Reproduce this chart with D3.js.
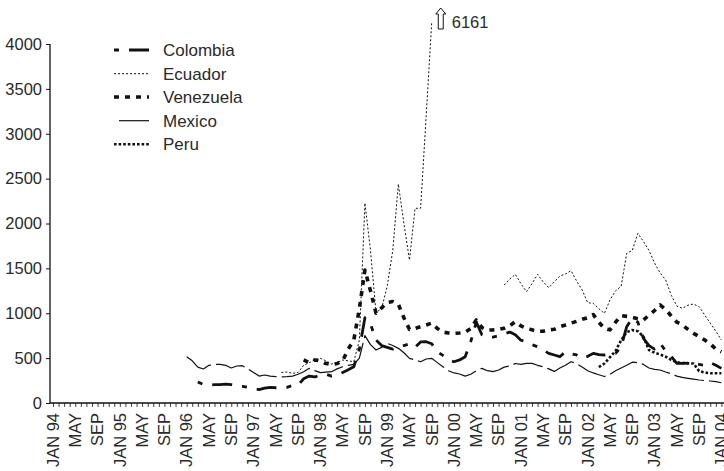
<!DOCTYPE html>
<html><head><meta charset="utf-8">
<script src="https://cdn.jsdelivr.net/npm/d3@7"></script>
<style>
html,body{margin:0;padding:0;background:#fff;}
svg{display:block;font-family:"Liberation Sans",Arial,Helvetica,sans-serif;}
</style></head>
<body>
<svg id="chart" width="724" height="471"></svg>
<script>
// Month index 0 = JAN 94 ... 120 = JAN 04
const tickLabels = ["JAN 94","MAY","SEP","JAN 95","MAY","SEP","JAN 96","MAY","SEP","JAN 97","MAY","SEP",
  "JAN 98","MAY","SEP","JAN 99","MAY","SEP","JAN 00","MAY","SEP","JAN 01","MAY","SEP",
  "JAN 02","MAY","SEP","JAN 03","MAY","SEP","JAN 04"];
const yTicks = [0,500,1000,1500,2000,2500,3000,3500,4000];
const seriesNames = ["Colombia","Ecuador","Venezuela","Mexico","Peru"];

const colombiaStart = 26; // MAR 96
const colombia = [235,205,200,205,205,210,205,190,185,175,160,150,165,175,170,170,175,195,200,
  270,300,290,310,320,300,312,340,370,404,600,950,880,700,640,620,600,630,640,660,620,680,683,660,
  571,530,480,460,480,516,683,900,760,735,735,750,770,790,760,700,683,650,627,590,553,535,516,571,
  550,535,498,520,553,540,535,545,553,627,850,944,900,720,640,600,665,580,520,442,442,445,442,430,
  420,449,420,386];

const ecuadorStart = 41; // JUN 97
const ecuador = [340,345,330,340,420,449,480,498,470,435,450,479,470,460,700,2228,1700,1006,1055,
  1300,1700,2440,2000,1593,2169,2170,3200,6161,
  null,null,null,null,null,null,null,null,null,null,null,null,
  1315,1380,1434,1330,1240,1330,1434,1350,1285,1350,1415,1437,1474,1360,1259,1118,1110,1050,999,
  1150,1250,1300,1668,1700,1891,1800,1700,1560,1450,1370,1200,1080,1055,1090,1103,1073,980,890,800,702];

const venezuelaStart = 45; // OCT 97
const venezuela = [480,450,480,470,440,430,440,470,600,700,1050,1482,1250,1000,1060,1120,1130,1100,
  950,820,830,850,870,890,830,790,780,776,780,790,830,925,840,813,815,820,832,860,906,860,832,815,
  800,800,815,821,850,869,890,910,932,950,985,900,830,815,900,975,965,955,940,925,980,1030,1092,
  1040,970,900,870,820,776,740,702,660,600,571];

const mexicoStart = 24; // JAN 96
const mexico = [516,470,400,379,420,430,430,420,390,412,416,380,340,300,312,300,293,290,293,300,320,
  349,386,360,338,345,349,380,404,420,430,500,750,650,590,620,665,640,609,560,498,480,460,490,498,
  450,404,360,335,323,300,320,360,386,360,350,368,400,412,440,430,442,442,420,404,380,352,390,420,
  460,440,400,360,335,315,295,320,360,390,420,455,450,430,390,375,368,345,325,300,285,275,265,256,
  250,245,238,226];

const peruStart = 98; // MAR 02
const peru = [400,440,510,580,700,790,813,800,740,590,560,540,516,480,455,445,442,440,355,340,331,331,331];

const displayCap = 4250; // values above are drawn at the cap and annotated

const svg = d3.select("#chart");
const x = d3.scaleLinear().domain([0,120]).range([53,721.4]);
const y = d3.scaleLinear().domain([0,4000]).range([403,44]);
const ink = "#111";
const textCol = "#2a2a2a";

// axes
const yAxis = d3.axisLeft(y).tickValues(yTicks).tickSize(4).tickPadding(4).tickFormat(d3.format("d"));
const gy = svg.append("g").attr("transform","translate(50,0)").call(yAxis);
gy.select(".domain").attr("d","M0,"+y(4000)+"V"+y(0)).attr("stroke",ink).attr("stroke-width",1.3);
gy.selectAll(".tick line").attr("stroke",ink);
gy.selectAll(".tick text").attr("font-size","16.5px").attr("fill",textCol)
  .attr("font-family","Liberation Sans, Arial, sans-serif");

const xAxis = d3.axisBottom(x).tickValues(d3.range(0,121)).tickSize(4).tickFormat("");
const gx = svg.append("g").attr("transform","translate(0,403)").call(xAxis);
gx.select(".domain").attr("d","M50,0H724").attr("stroke",ink).attr("stroke-width",1.3);
gx.selectAll(".tick line").attr("stroke",ink).attr("stroke-width",0.8);

const labelG = svg.append("g");
labelG.selectAll("text").data(tickLabels).join("text")
  .attr("transform",(d,i)=>"translate("+x(i*4)+",413) rotate(-90)")
  .attr("text-anchor","end").attr("dy","0.35em")
  .attr("font-size","16.5px").attr("fill",textCol).text(d=>d);

// series
function toPoints(start, arr){ return arr.map((v,i)=>({m:start+i, v:v})); }
const styles = {
  Colombia:{w:2.8, dash:"5,10,20,10"},
  Ecuador:{w:1, dash:"2,2"},
  Venezuela:{w:3.6, dash:"5,6"},
  Mexico:{w:1.2, dash:"30,5"},
  Peru:{w:2.6, dash:"2.6,2"}
};
const data = {
  Colombia: toPoints(colombiaStart, colombia),
  Ecuador: toPoints(ecuadorStart, ecuador),
  Venezuela: toPoints(venezuelaStart, venezuela),
  Mexico: toPoints(mexicoStart, mexico),
  Peru: toPoints(peruStart, peru)
};
const line = d3.line().defined(d=>d.v!=null).x(d=>x(d.m)).y(d=>y(Math.min(d.v,displayCap)));
const drawOrder = ["Mexico","Ecuador","Peru","Venezuela","Colombia"];
drawOrder.forEach(name=>{
  const s = styles[name];
  svg.append("path").datum(data[name]).attr("d",line)
    .attr("fill","none").attr("stroke",ink).attr("stroke-width",s.w)
    .attr("stroke-dasharray",s.dash).attr("stroke-linecap","butt").attr("stroke-linejoin","round");
});

// off-scale annotation
const peakIdx = ecuador.indexOf(d3.max(ecuador));
const px = x(ecuadorStart+peakIdx);
const ax = px+9, ay = 8;
svg.append("path")
  .attr("d",`M${ax},${ay} L${ax+5},${ay+6} L${ax+2.5},${ay+6} L${ax+2.5},${ay+21} L${ax-2.5},${ay+21} L${ax-2.5},${ay+6} L${ax-5},${ay+6} Z`)
  .attr("fill","#fff").attr("stroke",ink).attr("stroke-width",1);
svg.append("text").attr("x",ax+11).attr("y",28).attr("font-size","16.5px").attr("fill",textCol)
  .text(d3.max(ecuador));

// legend
const legY = [50,73.7,97,120.7,144.3];
const lg = svg.append("g");
seriesNames.forEach((name,i)=>{
  const s = styles[name];
  const x0 = name==="Mexico" ? 119 : 114;
  lg.append("line").attr("x1",x0).attr("x2",149).attr("y1",legY[i]).attr("y2",legY[i])
    .attr("stroke",ink).attr("stroke-width",s.w).attr("stroke-dasharray",s.dash);
  lg.append("text").attr("x",163).attr("y",legY[i]).attr("dy","0.35em")
    .attr("font-size","17px").attr("fill",textCol).text(name);
});
</script>
</body></html>
